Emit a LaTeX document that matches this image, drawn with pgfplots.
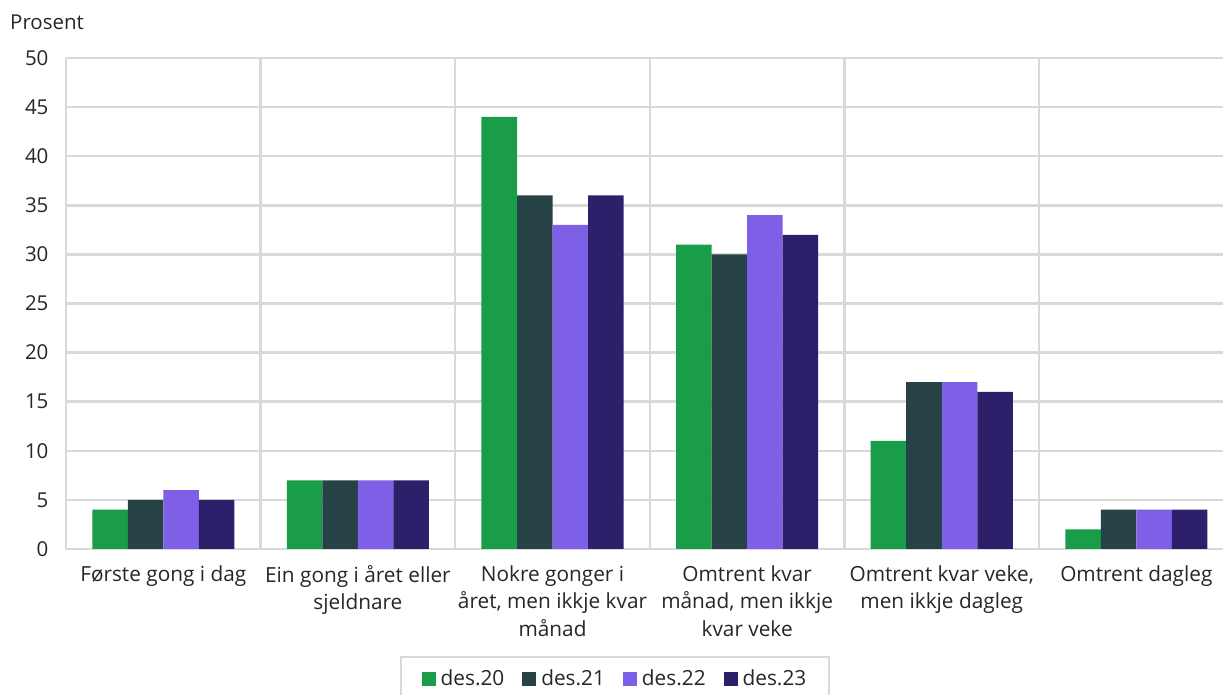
\documentclass[border=0pt]{standalone}
\usepackage{pgfplots}
\pgfplotsset{compat=1.18}
\usepackage{fontspec}
\setmainfont{Open Sans}
\definecolor{cgreen}{HTML}{1A9D49}
\definecolor{cdark}{HTML}{274247}
\definecolor{cpurple}{HTML}{7D60E6}
\definecolor{cnavy}{HTML}{2E1F6B}
\definecolor{cgrid}{HTML}{D9D9D9}
\begin{document}
\begin{tikzpicture}[x=1pt,y=1pt]
\path[use as bounding box] (0,0) rectangle (1223,695);
\node[anchor=west,font=\fontsize{20.5}{24}\selectfont,text=black!85,inner sep=0pt] at (10,673) {Prosent};
\begin{axis}[
  at={(66pt,146pt)}, anchor=south west,
  scale only axis, width=1157pt, height=491pt,
  ybar=0pt, bar width=0.1825,
  xmin=-0.5, xmax=5.445, ymin=0, ymax=50,
  ytick={0,5,...,50},
  xtick=data,
  xticklabels={{Første gong i dag},{Ein gong i året eller\\sjeldnare},{Nokre gonger i\\året, men ikkje kvar\\månad},{Omtrent kvar\\månad, men ikkje\\kvar veke},{Omtrent kvar veke,\\men ikkje dagleg},{Omtrent dagleg}},
  xticklabel style={align=center,anchor=north,yshift=-13pt,font=\fontsize{20.8}{27.5}\selectfont,text=black!85},
  yticklabel style={font=\fontsize{20.5}{24}\selectfont,text=black!85,xshift=-14pt},
  /pgf/number format/assume math mode=true,
  major tick length=0pt,
  ymajorgrids, grid style={cgrid,line width=2.5pt},
  extra x ticks={-0.5,0.5,1.5,2.5,3.5,4.5},
  extra x tick labels={},
  extra x tick style={xmajorgrids=true, major tick length=0pt},
  axis line style={draw=none},
  legend columns=4,
  legend style={at={(rel axis cs:0.4745,0)}, yshift=-107pt, anchor=north,
    draw=cgrid, line width=2pt, font=\fontsize{20.8}{24}\selectfont,
    text=black!85, inner xsep=21pt, inner ysep=11pt,
    /tikz/every odd column/.append style={column sep=3pt},
    /tikz/every even column/.append style={column sep=16pt}},
  legend image code/.code={\fill[#1] (0pt,-7pt) rectangle (14pt,7pt);},
  clip=false,
]
\addplot[fill=cgreen,draw=none] coordinates {(0,4) (1,7) (2,44) (3,31) (4,11) (5,2)};
\addplot[fill=cdark,draw=none] coordinates {(0,5) (1,7) (2,36) (3,30) (4,17) (5,4)};
\addplot[fill=cpurple,draw=none] coordinates {(0,6) (1,7) (2,33) (3,34) (4,17) (5,4)};
\addplot[fill=cnavy,draw=none] coordinates {(0,5) (1,7) (2,36) (3,32) (4,16) (5,4)};
\legend{des.20,des.21,des.22,des.23}
\end{axis}
\end{tikzpicture}
\end{document}
